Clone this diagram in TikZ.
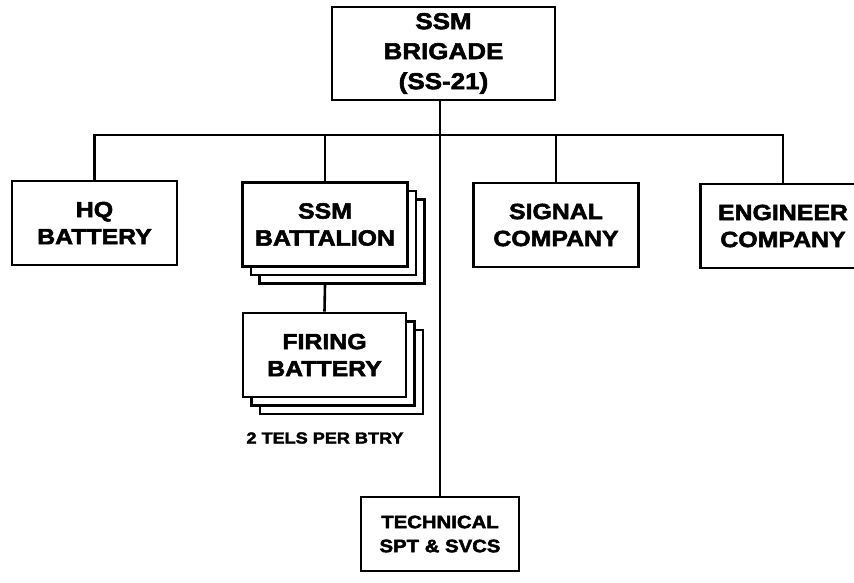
\documentclass[tikz,border=0pt]{standalone}
\usepackage{fontspec}
\newfontfamily\orgfont{Liberation Sans}[FakeStretch=1.13, BoldFeatures={FakeBold=2.5}]
\usetikzlibrary{shadows,positioning,calc}

\begin{document}
\begin{tikzpicture}[x=1pt, y=-1pt,
    unit/.style={rectangle, draw=black, line width=2.6pt, fill=white, minimum width=165pt, minimum height=84pt, align=center, inner sep=0pt, font=\orgfont\bfseries\fontsize{22}{27}\selectfont},
    stack/.style={copy shadow={shadow xshift=17pt, shadow yshift=-17pt, line width=2.6pt}, copy shadow={shadow xshift=8.5pt, shadow yshift=-8.5pt, line width=2.6pt}},
    link/.style={line width=2.6pt, black},
    note/.style={font=\orgfont\bfseries\fontsize{16}{18}\selectfont, inner sep=0pt}
]
    \clip (0,0) rectangle (854,582);
    \fill[white] (0,0) rectangle (854,582);

    \coordinate (bus) at (441,135);

    \node[unit, minimum width=223pt, minimum height=93pt, font=\orgfont\bfseries\fontsize{23}{30}\selectfont] (brig) at (443.5,53.5) {SSM\\BRIGADE\\(SS-21)};
    \node[unit] (hq) at (94.5,223) {HQ\\BATTERY};
    \node[unit, stack] (bn) at (325,224.5) {SSM\\BATTALION};
    \node[unit] (sig) at (556,225) {SIGNAL\\COMPANY};
    \node[unit] (eng) at (783,226) {ENGINEER\\COMPANY};
    \node[unit, stack, minimum width=163pt] (fire) at (324.5,355) {FIRING\\BATTERY};
    \node[unit, minimum width=158pt, minimum height=74pt, font=\orgfont\bfseries\fontsize{18}{24}\selectfont] (tech) at (440,534) {TECHNICAL\\SPT \& SVCS};

    \node[note] (tels) at (325,438) {2 TELS PER BTRY};

    \draw[link] (hq.north) |- (bus) -| (eng.north);
    \draw[link] (bn.north) -- (bn.north |- bus);
    \draw[link] (sig.north) -- (sig.north |- bus);
    \draw[link] (brig.south -| tech.north) -- (tech.north);
    \draw[link] (fire.north) -- ([yshift=-17pt]bn.south);
\end{tikzpicture}
\end{document}
